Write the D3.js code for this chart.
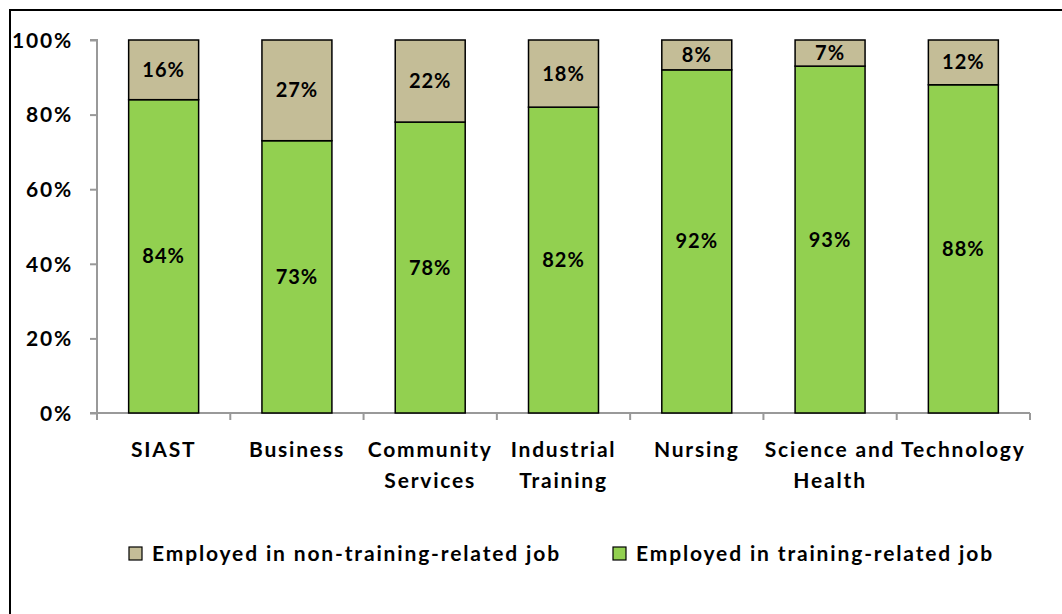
<!DOCTYPE html>
<html>
<head>
<meta charset="utf-8">
<script src="https://cdn.jsdelivr.net/npm/d3@7"></script>
<style>
  body { margin: 0; background: #fff; }
  svg { display: block; font-family: Lato, "Open Sans", sans-serif; font-weight: 700; }
</style>
</head>
<body>
<div id="chart"></div>
<script>
// 数据
const categories = ["SIAST", "Business", "Community Services", "Industrial Training", "Nursing", "Science and Health", "Technology"];
const labelLines = [["SIAST"], ["Business"], ["Community", "Services"], ["Industrial", "Training"], ["Nursing"], ["Science and", "Health"], ["Technology"]];
const trainingRelated = [84, 73, 78, 82, 92, 93, 88];
const nonTrainingRelated = [16, 27, 22, 18, 8, 7, 12];
const yTicks = [0, 20, 40, 60, 80, 100];
const seriesNames = ["Employed in non-training-related job", "Employed in training-related job"];

const width = 1062, height = 614;
const margin = { left: 97, right: 32, top: 40, bottom: 201 };
const green = "#92d050", tan = "#c4bd97";

const svg = d3.select("#chart").append("svg")
  .attr("width", width)
  .attr("height", height);

// 外框（只有左边和上边）
svg.append("path")
  .attr("d", `M10,${height} V10 H${width}`)
  .attr("fill", "none")
  .attr("stroke", "#000")
  .attr("stroke-width", 2);

const x = d3.scaleBand()
  .domain(categories)
  .range([margin.left, width - margin.right])
  .paddingInner(0.475)
  .paddingOuter(0.2375);

const y = d3.scaleLinear()
  .domain([0, 100])
  .range([height - margin.bottom, margin.top]);

// y 轴
const yAxis = svg.append("g")
  .attr("transform", `translate(${margin.left},0)`)
  .call(d3.axisLeft(y).tickValues(yTicks).tickSize(7).tickFormat(d => d + "%"));
yAxis.select(".domain").attr("stroke", "#999").attr("stroke-width", 2)
  .attr("d", `M-7,${y(100)}H0V${y(0)}H-7`);
yAxis.selectAll(".tick line").attr("stroke", "#999").attr("stroke-width", 2);
yAxis.selectAll(".tick text")
  .attr("x", -24)
  .attr("dy", "0.35em")
  .attr("fill", "#000")
  .style("font-size", "21px")
  .style("letter-spacing", "1.8px")
  .style("font-family", "Lato, sans-serif")
  .style("font-weight", 700);

// x 轴线和刻度（在类别边界）
const xLine = svg.append("g");
xLine.append("line")
  .attr("x1", margin.left).attr("x2", width - margin.right)
  .attr("y1", y(0)).attr("y2", y(0))
  .attr("stroke", "#999").attr("stroke-width", 2);
const step = x.step();
const bounds = d3.range(categories.length + 1).map(i => margin.left + i * step);
xLine.selectAll(".xt")
  .data(bounds)
  .enter()
  .append("line")
  .attr("x1", d => d).attr("x2", d => d)
  .attr("y1", y(0)).attr("y2", y(0) + 7)
  .attr("stroke", "#999").attr("stroke-width", 2);

// 堆叠柱
const rows = categories.map((c, i) => ({ cat: c, train: trainingRelated[i], non: nonTrainingRelated[i] }));

svg.selectAll(".bar-green")
  .data(rows)
  .enter()
  .append("rect")
  .attr("x", d => x(d.cat))
  .attr("width", x.bandwidth())
  .attr("y", d => y(d.train))
  .attr("height", d => y(0) - y(d.train))
  .attr("fill", green)
  .attr("stroke", "#000")
  .attr("stroke-width", 1.5);

svg.selectAll(".bar-tan")
  .data(rows)
  .enter()
  .append("rect")
  .attr("x", d => x(d.cat))
  .attr("width", x.bandwidth())
  .attr("y", d => y(d.train + d.non))
  .attr("height", d => y(d.train) - y(d.train + d.non))
  .attr("fill", tan)
  .attr("stroke", "#000")
  .attr("stroke-width", 1.5);

// 数据标签
svg.selectAll(".lab-green")
  .data(rows)
  .enter()
  .append("text")
  .attr("x", d => x(d.cat) + x.bandwidth() / 2)
  .attr("y", d => y(d.train / 2))
  .attr("dy", "0.35em")
  .attr("text-anchor", "middle")
  .style("font-size", "20px")
  .style("letter-spacing", "1px")
  .text(d => d.train + "%");

svg.selectAll(".lab-tan")
  .data(rows)
  .enter()
  .append("text")
  .attr("x", d => x(d.cat) + x.bandwidth() / 2)
  .attr("y", d => y(d.train + d.non / 2))
  .attr("dy", "0.35em")
  .attr("text-anchor", "middle")
  .style("font-size", "20px")
  .style("letter-spacing", "1px")
  .text(d => d.non + "%");

// 类别标签
const catLabels = svg.selectAll(".cat")
  .data(categories)
  .enter()
  .append("text")
  .attr("text-anchor", "middle")
  .attr("transform", d => `translate(${x(d) + x.bandwidth() / 2},${y(0) + 44})`)
  .style("font-size", "21px")
  .style("letter-spacing", "1.8px");
catLabels.selectAll("tspan")
  .data((d, i) => labelLines[i])
  .enter()
  .append("tspan")
  .attr("x", 0)
  .attr("y", (d, i) => i * 31)
  .text(d => d);

// 图例
const legendItems = [
  { name: seriesNames[0], color: tan, x: 129 },
  { name: seriesNames[1], color: green, x: 613 }
];
const lg = svg.selectAll(".legend")
  .data(legendItems)
  .enter()
  .append("g")
  .attr("transform", d => `translate(${d.x},547)`);
lg.append("rect")
  .attr("width", 13).attr("height", 13)
  .attr("fill", d => d.color)
  .attr("stroke", "#000")
  .attr("stroke-width", 1.2);
lg.append("text")
  .attr("x", 23)
  .attr("y", 7)
  .attr("dy", "0.35em")
  .style("font-size", "21px")
  .style("letter-spacing", "1.85px")
  .text(d => d.name);
</script>
</body>
</html>
